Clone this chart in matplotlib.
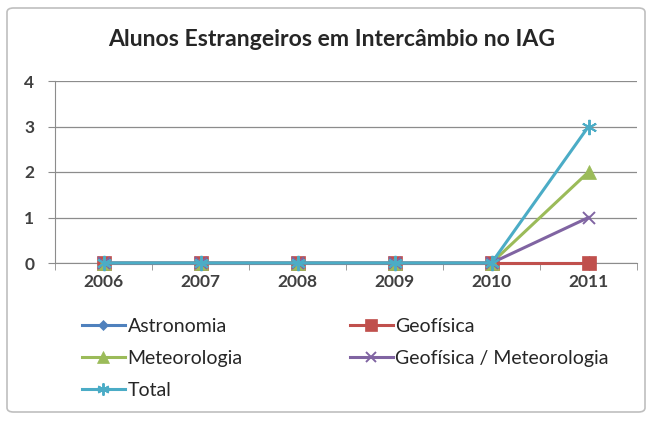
import matplotlib
matplotlib.use("Agg")
import matplotlib.pyplot as plt
from matplotlib.patches import FancyBboxPatch

plt.rcParams["font.family"] = ["Lato", "DejaVu Sans"]

anos = ["2006", "2007", "2008", "2009", "2010", "2011"]
astronomia = [0, 0, 0, 0, 0, 0]
geofisica = [0, 0, 0, 0, 0, 0]
meteorologia = [0, 0, 0, 0, 0, 2]
geo_met = [0, 0, 0, 0, 0, 1]
total = [0, 0, 0, 0, 0, 3]

fig = plt.figure(figsize=(6.53, 4.24), dpi=100)
fig.patches.append(FancyBboxPatch((7 / 653, 12 / 424), 638 / 653, 404 / 424,
                                  boxstyle="round,pad=0,rounding_size=0.01",
                                  transform=fig.transFigure, facecolor="white",
                                  edgecolor="#BFBFBF", linewidth=1.2, zorder=-5))

ax = fig.add_axes([55 / 653, 161 / 424, 582 / 653, 182 / 424])
ax.set_facecolor("none")
x = range(len(anos))

series = [
    ("Astronomia", astronomia, "#4F81BD", "D", 7),
    ("Geofísica", geofisica, "#C0504D", "s", 10),
    ("Meteorologia", meteorologia, "#9BBB59", "^", 10),
    ("Geofísica / Meteorologia", geo_met, "#8064A2", "x", 9),
    ("Total", total, "#4BACC6", (6, 2, 0), 11),
]
handles = {}
for nome, vals, cor, mk, ms in series:
    h, = ax.plot(x, vals, color=cor, lw=2.2, marker=mk, markersize=ms,
                 markeredgewidth=1.4 if mk in ("x", (6, 2, 0)) else 0.5,
                 markeredgecolor=cor, label=nome, clip_on=False, zorder=3)
    handles[nome] = h

ax.set_xlim(-0.5, 5.5)
ax.set_ylim(0, 4)
ax.set_yticks([0, 1, 2, 3, 4])
ax.set_xticks(list(x))
ax.set_xticklabels(anos)
ax.set_xticks([i + 0.5 for i in range(-1, 6)], minor=True)
ax.yaxis.grid(True, color="#8C8C8C", lw=0.9)
ax.set_axisbelow(True)
for s in ["top", "right"]:
    ax.spines[s].set_visible(False)
ax.spines["left"].set_color("#8C8C8C")
ax.spines["bottom"].set_color("#8C8C8C")
ax.tick_params(axis="y", length=5, color="#8C8C8C", labelsize=12.5, pad=10,
               labelcolor="#404040")
ax.tick_params(axis="x", which="major", length=0, labelsize=12.5, pad=8,
               labelcolor="#404040")
ax.tick_params(axis="x", which="minor", length=5, color="#8C8C8C")
for t in ax.get_xticklabels() + ax.get_yticklabels():
    t.set_fontweight("bold")

fig.text(332 / 653, 1 - 40 / 424, "Alunos Estrangeiros em Intercâmbio no IAG",
         ha="center", va="center", fontsize=16.6, fontweight="bold",
         color="#262626")

ordem = ["Astronomia", "Meteorologia", "Total", "Geofísica",
         "Geofísica / Meteorologia"]
leg = fig.legend([handles[n] for n in ordem], ordem, ncol=2, frameon=False,
                 loc="upper left", bbox_to_anchor=(82 / 653, 1 - 318 / 424),
                 borderaxespad=0, borderpad=0, markerscale=0.8,
                 fontsize=14, handlelength=2.2, handletextpad=0.15,
                 columnspacing=5.5, labelspacing=0.76, labelcolor="#262626")

fig.savefig("out.png", dpi=100)
